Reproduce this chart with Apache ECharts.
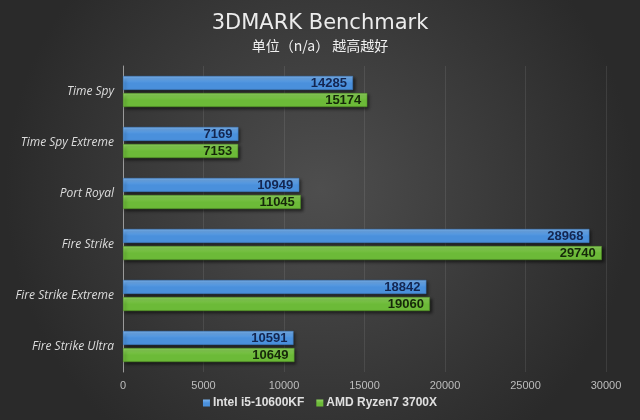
<!DOCTYPE html>
<html><head><meta charset="utf-8">
<script src="https://cdn.jsdelivr.net/npm/echarts@6/dist/echarts.min.js"></script>
<style>html,body{margin:0;padding:0;background:#333}#c{width:640px;height:420px}</style>
</head><body><div id="c"></div>
<script>
const categories = ['Time Spy','Time Spy Extreme','Port Royal','Fire Strike','Fire Strike Extreme','Fire Strike Ultra'];
const seriesNames = ['Intel i5-10600KF','AMD Ryzen7 3700X'];
const intelValues = [14285, 7169, 10949, 28968, 18842, 10591];
const amdValues = [15174, 7153, 11045, 29740, 19060, 10649];

const chart = echarts.init(document.getElementById('c'), null, {renderer:'canvas'});
function grad(top, bottom){
  return new echarts.graphic.LinearGradient(0,0,0,1,[{offset:0,color:top},{offset:0.5,color:bottom},{offset:1,color:bottom}]);
}
chart.setOption({
  backgroundColor: new echarts.graphic.RadialGradient(0.5,0.45,0.75,[{offset:0,color:'#4e4e4e'},{offset:1,color:'#2a2a2a'}]),
  animation:false,
  title:{
    text:'3DMARK Benchmark',
    subtext:'单位（n/a） 越高越好',
    left:'center', top:8, itemGap:5,
    textStyle:{color:'#ececec',fontSize:21,fontWeight:'normal',fontFamily:'DejaVu Sans'},
    subtextStyle:{color:'#f0f0f0',fontSize:14,fontFamily:'Noto Sans CJK SC'}
  },
  legend:{
    bottom:6, left:'center', itemWidth:7, itemHeight:7, itemGap:12,
    icon:'rect',
    itemStyle:{borderWidth:0,shadowBlur:0,shadowOffsetX:0,shadowOffsetY:0},
    textStyle:{color:'#e0e0e0',fontSize:12,fontWeight:'bold',fontFamily:'Liberation Sans',padding:[0,0,0,-2]},
    data:seriesNames
  },
  grid:{left:123,right:34,top:66,bottom:48},
  xAxis:{
    type:'value', min:0, max:30000, interval:5000,
    axisLine:{show:false}, axisTick:{show:false},
    axisLabel:{color:'#bdbdbd',fontSize:11,margin:8,fontFamily:'Liberation Sans',formatter:function(v){return String(v);}},
    splitLine:{lineStyle:{color:'rgba(255,255,255,0.09)',width:1}}
  },
  yAxis:{
    type:'category', data:categories, inverse:true,
    axisLine:{lineStyle:{color:'#9a9a9a'}}, axisTick:{show:false},
    axisLabel:{color:'#dcdcdc',fontSize:12,fontStyle:'italic',margin:9,fontFamily:'Open Sans'}
  },
  series:[
    {name:seriesNames[0],type:'bar',data:intelValues,barWidth:14,barGap:'22%',
     itemStyle:{color:grad('#7ab4f0','#4a90dc'),borderColor:'#3c78bd',borderWidth:0.5,shadowColor:'rgba(0,0,0,0.55)',shadowBlur:3,shadowOffsetX:2,shadowOffsetY:2},
     label:{show:true,position:'insideRight',color:'#142650',fontSize:13,fontWeight:'bold',fontFamily:'Liberation Sans',distance:6}},
    {name:seriesNames[1],type:'bar',data:amdValues,barWidth:14,
     itemStyle:{color:grad('#8fd45e','#6cba38'),borderColor:'#4f8f25',borderWidth:0.5,shadowColor:'rgba(0,0,0,0.55)',shadowBlur:3,shadowOffsetX:2,shadowOffsetY:2},
     label:{show:true,position:'insideRight',color:'#16280a',fontSize:13,fontWeight:'bold',fontFamily:'Liberation Sans',distance:6}}
  ]
});
</script></body></html>
